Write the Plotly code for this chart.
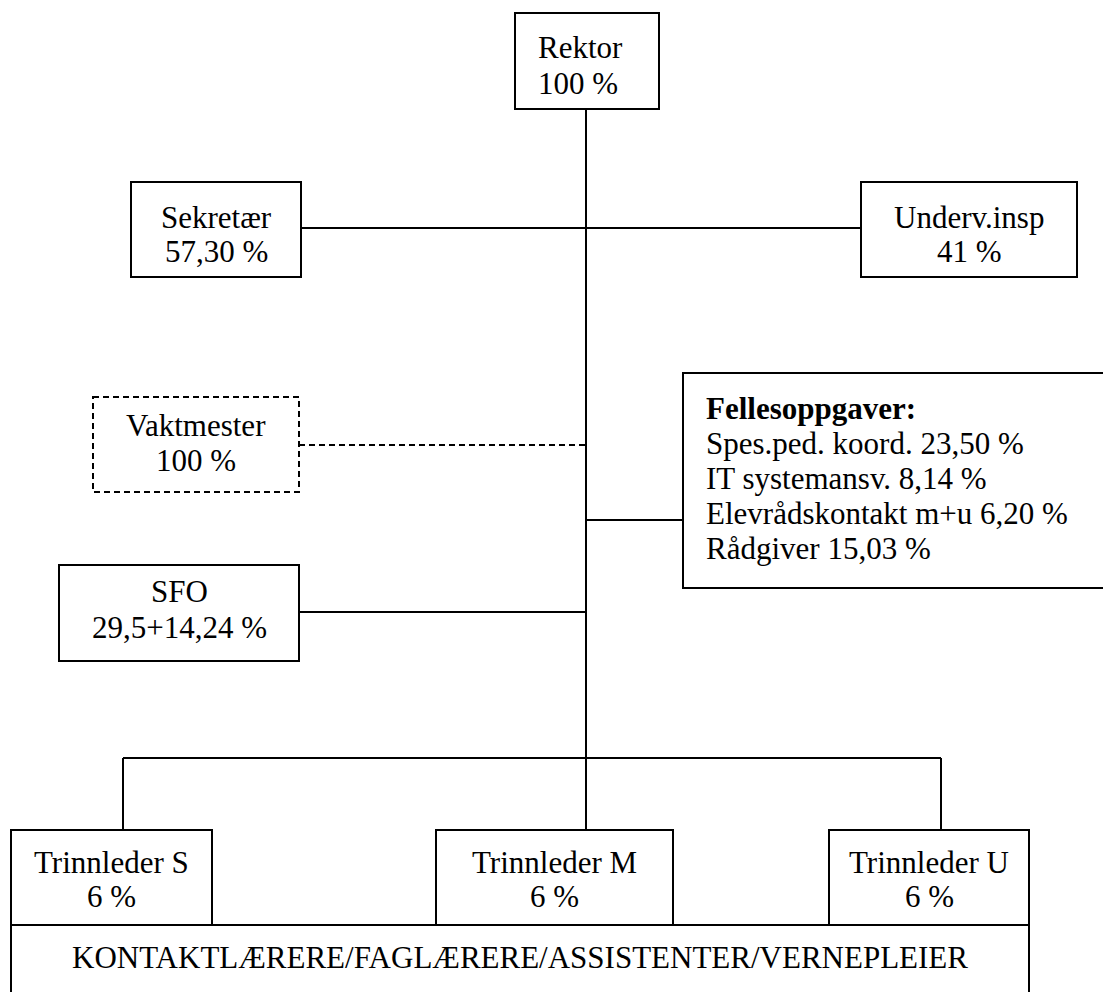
import plotly.graph_objects as go

# ---- data (text content) ----
units = ["Rektor", "Sekretær", "Underv.insp", "Vaktmester", "SFO",
         "Trinnleder S", "Trinnleder M", "Trinnleder U"]
shares = ["100 %", "57,30 %", "41 %", "100 %", "29,5+14,24 %",
          "6 %", "6 %", "6 %"]
felles_title = "Fellesoppgaver:"
felles_tasks = ["Spes.ped. koord.", "IT systemansv.", "Elevrådskontakt m+u", "Rådgiver"]
felles_shares = ["23,50 %", "8,14 %", "6,20 %", "15,03 %"]
staff_label = "KONTAKTLÆRERE/FAGLÆRERE/ASSISTENTER/VERNEPLEIER"

# ---- layout geometry (pixels) ----
W, H = 1103, 992
boxes = {  # x0, x1, y0, y1, dashed, text x, align, line1 y, line spacing
    "Rektor": (515, 659, 13, 109, False, 536, "left", 47, 36),
    "Sekretær": (131, 301, 182, 277, False, 216, "center", 217, 34),
    "Underv.insp": (861, 1077, 182, 277, False, 969, "center", 217, 34),
    "Vaktmester": (93, 299, 397, 492, True, 196, "center", 425, 35),
    "SFO": (59, 299, 565, 661, False, 179, "center", 591, 36),
    "Trinnleder S": (11, 212, 830, 925, False, 111, "center", 862, 34),
    "Trinnleder M": (436, 673, 830, 925, False, 554, "center", 862, 34),
    "Trinnleder U": (829, 1029, 830, 925, False, 929, "center", 862, 34),
}
FONT = dict(family="Liberation Serif, Times New Roman, serif", size=31, color="black")
LW = 2
DASH = "6px,4px"

fig = go.Figure()
shapes = []
annotations = []

def line(x0, y0, x1, y1, dash="solid"):
    shapes.append(dict(type="line", xref="x", yref="y", x0=x0, y0=y0, x1=x1, y1=y1,
                       line=dict(color="black", width=LW, dash=dash)))

def rect(x0, x1, y0, y1, dash="solid"):
    shapes.append(dict(type="rect", xref="x", yref="y", x0=x0, x1=x1, y0=y0, y1=y1,
                       line=dict(color="black", width=LW, dash=dash),
                       fillcolor="white", layer="above"))

def text(x, y, s, align="center"):
    annotations.append(dict(x=x, y=y, xref="x", yref="y", text=s, showarrow=False,
                            xanchor=align, yanchor="middle", font=FONT))

# connectors
line(586, 109, 586, 830)
line(301, 228, 861, 228)
line(299, 445, 586, 445, dash=DASH)
line(586, 520, 683, 520)
line(299, 612, 586, 612)
line(123, 758, 941, 758)
line(123, 758, 123, 830)
line(941, 758, 941, 830)

# boxes for units
for name, pct in zip(units, shares):
    x0, x1, y0, y1, dashed, tx, al, ty, sp = boxes[name]
    rect(x0, x1, y0, y1, dash=DASH if dashed else "solid")
    text(tx, ty, name, al)
    text(tx, ty + sp, pct, al)

# common tasks box (runs off the right edge)
rect(683, 1120, 373, 588)
text(704, 408, "<b>" + felles_title + "</b>", "left")
for i, (t, p) in enumerate(zip(felles_tasks, felles_shares)):
    text(704, 443 + 35 * i, f"{t} {p}", "left")

# staff box (runs off the bottom of the page)
rect(11, 1029, 925, 1010)
text(520, 957, staff_label)

fig.update_layout(
    width=W, height=H,
    margin=dict(l=0, r=0, t=0, b=0),
    paper_bgcolor="white", plot_bgcolor="white",
    xaxis=dict(range=[0, W], visible=False, fixedrange=True),
    yaxis=dict(range=[H, 0], visible=False, fixedrange=True),
    shapes=shapes, annotations=annotations, showlegend=False,
)
fig.write_html(
    "out.html",
    config={"displayModeBar": False, "staticPlot": True},
    post_script="document.body.style.margin='0';document.body.style.overflow='hidden';",
)
